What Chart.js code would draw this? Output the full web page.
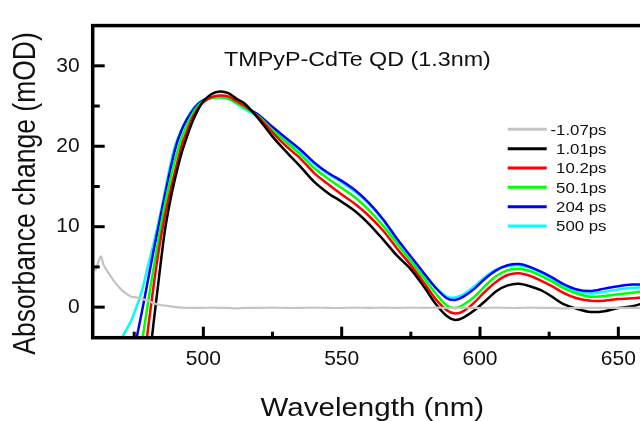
<!DOCTYPE html>
<html>
<head>
<meta charset="utf-8">
<script src="https://cdn.jsdelivr.net/npm/chart.js@4/dist/chart.umd.min.js"></script>
<style>
html,body{margin:0;padding:0;background:#fff;overflow:hidden;}
#wrap{width:652px;height:421px;}
</style>
</head>
<body>
<div id="wrap"><canvas id="c" width="652" height="421"></canvas></div>
<script>
// ---- data ----
const wavelengths = [460,461,462,463,464,466,468,470,472,474,476,478,480,482,484,486,488,490,492,494,496,498,500,503,506,509,512,515,520,525,530,535,540,545,550,555,560,565,570,575,580,584,588,591,594,598,602,606,610,614,618,622,626,630,635,640,645,650,655,660];

const seriesLabels = ['-1.07ps','1.01ps','10.2ps','50.1ps','204 ps','500 ps'];

const s_m107 = [5.0,4.6,5.6,6.3,5.2,4.1,3.1,2.3,1.7,1.3,1.2,1.0,0.8,0.5,0.3,0.2,0.1,0.0,-0.05,-0.1,-0.1,-0.1,-0.1,-0.05,-0.1,-0.1,-0.15,-0.1,-0.1,-0.05,-0.1,-0.1,-0.05,-0.1,-0.1,-0.05,-0.1,-0.05,-0.1,-0.05,-0.1,-0.05,-0.1,-0.1,-0.05,-0.1,-0.1,-0.05,-0.1,-0.1,-0.05,-0.1,-0.1,-0.15,-0.1,-0.1,-0.1,-0.1,-0.1,-0.1];

const s_101 = [null,null,null,null,null,null,null,null,null,null,null,null,
  -8.0,-2.0,3.8,9.3,13.2,16.3,19.0,21.1,23.0,24.5,25.6,
  26.5,26.8,26.6,25.9,25.3,
  23.4,21.2,19.3,17.5,15.6,14.2,13.1,11.9,10.3,8.4,6.4,4.7,2.4,
  0.4,-1.1,-1.6,-1.3,-0.4,
  0.8,2.0,2.7,2.9,2.6,2.1,1.3,0.4,
  -0.2,-0.6,-0.5,-0.1,0.1,0.6];

const s_102 = [null,null,null,null,null,null,null,null,null,null,null,
  -8.3,-2.7,2.6,7.3,11.2,14.4,17.2,19.9,21.8,23.5,24.7,25.5,
  26.1,26.3,26.2,25.6,25.0,
  23.6,21.7,20.0,18.5,16.7,15.3,14.0,12.8,11.3,9.5,7.3,5.2,2.9,
  1.0,-0.4,-0.8,-0.5,0.6,
  2.0,3.2,4.0,4.2,3.9,3.3,2.6,1.8,
  1.1,0.8,0.8,1.0,1.1,1.3];

const s_501 = [null,null,null,null,null,null,null,null,null,null,
  -8.0,-3.9,0.6,4.8,8.9,12.6,15.8,18.6,20.9,22.6,24.0,25.0,25.6,
  26.0,26.1,26.0,25.4,24.8,
  23.7,22.0,20.5,19.0,17.3,16.0,14.8,13.6,12.0,10.1,7.9,5.7,3.5,
  1.7,0.2,-0.1,0.3,1.3,
  2.7,3.9,4.6,4.75,4.5,3.9,3.2,2.4,
  1.7,1.3,1.4,1.6,1.8,2.0];

const s_204 = [null,null,null,null,null,null,null,null,null,
  -7.0,-3.6,-0.2,3.4,7.0,10.4,13.8,17.0,19.9,21.9,23.3,24.4,25.2,25.7,
  26.1,26.2,26.0,25.5,24.9,
  23.9,22.4,21.0,19.6,18.0,16.7,15.7,14.5,12.9,10.9,8.5,6.3,4.1,
  2.4,1.1,0.9,1.3,2.3,
  3.6,4.6,5.2,5.35,5.0,4.4,3.7,2.9,
  2.2,2.0,2.3,2.6,2.8,2.8];

const s_500 = [null,null,null,null,null,null,null,
  -4.1,-2.9,-1.6,0.2,2.3,5.2,7.9,10.9,14.2,17.6,20.3,22.0,23.4,24.5,25.3,25.8,
  26.1,26.1,25.9,25.3,24.6,
  23.6,22.2,20.8,19.4,17.8,16.6,15.5,14.3,12.8,10.8,8.3,6.1,3.9,
  2.4,1.3,1.2,1.6,2.6,
  3.8,4.7,5.1,5.2,4.9,4.3,3.5,2.6,
  1.9,1.7,1.9,2.2,2.4,2.5];

const seriesValues = [s_m107, s_101, s_102, s_501, s_204, s_500];
const seriesColors = ['#c4c4c4','#000000','#ff0000','#00ff00','#0000ff','#00ffff'];

const xTickValues = [475,500,525,550,575,600,625,650];
const xTicksMajor = [500,550,600,650];
const yTickValues = [0,5,10,15,20,25,30];
const yTicksMajor = [0,10,20,30];

const chartTitle = 'TMPyP-CdTe QD (1.3nm)';
const xTitle = 'Wavelength (nm)';
const yTitle = 'Absorbance change (mOD)';

// ---- helpers ----
const FONT = "'Liberation Sans', Arial, sans-serif";
function stretchedText(ctx, text, x, y, size, sx, align) {
  ctx.save();
  ctx.font = size + 'px ' + FONT;
  ctx.translate(x, y);
  ctx.scale(sx, 1);
  ctx.textAlign = align || 'center';
  ctx.textBaseline = 'alphabetic';
  ctx.fillText(text, 0, 0);
  ctx.restore();
}

const decor = {
  id: 'decor',
  afterDatasetsDraw(chart) {
    const {ctx, chartArea: a, scales: {x, y}} = chart;
    ctx.save();
    ctx.strokeStyle = '#000';
    ctx.lineCap = 'butt';
    // frame
    ctx.lineWidth = 3.5;
    ctx.strokeRect(a.left, a.top, a.right - a.left, a.bottom - a.top);
    // inward ticks
    ctx.lineWidth = 3;
    y.ticks.forEach(t => {
      const p = y.getPixelForValue(t.value);
      const len = yTicksMajor.includes(t.value) ? 12 : 7;
      ctx.beginPath(); ctx.moveTo(a.left, p); ctx.lineTo(a.left + len, p); ctx.stroke();
    });
    x.ticks.forEach(t => {
      const p = x.getPixelForValue(t.value);
      const len = xTicksMajor.includes(t.value) ? 11 : 6;
      ctx.beginPath(); ctx.moveTo(p, a.bottom); ctx.lineTo(p, a.bottom - len); ctx.stroke();
    });
    ctx.fillStyle = '#111';
    // chart caption
    stretchedText(ctx, chartTitle, x.getPixelForValue(555.7), y.getPixelForValue(30), 21, 1.11, 'center');
    // axis titles
    stretchedText(ctx, xTitle, (a.left + a.right) / 2 + 3, 415.5, 25, 1.18, 'center');
    ctx.save();
    ctx.font = '26.5px ' + FONT;
    ctx.translate(35, 193.5);
    ctx.rotate(-Math.PI / 2);
    ctx.scale(1, 1.15);
    ctx.textAlign = 'center';
    ctx.textBaseline = 'alphabetic';
    ctx.fillText(yTitle, 0, 0);
    ctx.restore();
    // legend
    const lx0 = 507.7, lx1 = 546.7, tx = 606.5, ly0 = 129.3, dy = 19.35;
    chart.data.datasets.forEach((ds, i) => {
      const yy = ly0 + i * dy;
      ctx.strokeStyle = ds.borderColor;
      ctx.lineWidth = 3;
      ctx.beginPath(); ctx.moveTo(lx0, yy); ctx.lineTo(lx1, yy); ctx.stroke();
      ctx.fillStyle = '#111';
      stretchedText(ctx, ds.label, tx, yy + 5.3, 15, 1.12, 'right');
    });
    ctx.restore();
  }
};

const datasets = seriesValues.map((vals, i) => ({
  label: seriesLabels[i],
  data: vals,
  borderColor: seriesColors[i],
  backgroundColor: seriesColors[i],
  borderWidth: i === 0 ? 2.2 : 2.5,
  pointRadius: 0,
  tension: 0.3,
  spanGaps: false,
  fill: false
}));

new Chart(document.getElementById('c'), {
  type: 'line',
  data: { labels: wavelengths, datasets },
  options: {
    responsive: false,
    devicePixelRatio: 1,
    animation: false,
    layout: { padding: { left: 0, right: 6, top: 12, bottom: 0 } },
    plugins: { legend: { display: false }, tooltip: { enabled: false }, title: { display: false } },
    scales: {
      x: {
        type: 'linear',
        min: 460, max: 660,
        grid: { display: false, drawTicks: false },
        border: { display: false },
        afterBuildTicks: s => { s.ticks = xTickValues.map(v => ({ value: v })); },
        ticks: {
          autoSkip: false, maxRotation: 0,
          padding: 9, color: '#111',
          font: { family: FONT, size: 21 },
          callback: v => xTicksMajor.includes(v) ? String(v) : ''
        },
        afterFit: s => { s.height = 83.3; }
      },
      y: {
        min: -3.8, max: 35,
        grid: { display: false, drawTicks: false },
        border: { display: false },
        afterBuildTicks: s => { s.ticks = yTickValues.map(v => ({ value: v })); },
        ticks: {
          autoSkip: false,
          padding: 13, color: '#111',
          font: { family: FONT, size: 21 },
          callback: v => yTicksMajor.includes(v) ? String(v) : ''
        },
        afterFit: s => { s.width = 92.7; }
      }
    }
  },
  plugins: [decor]
});
</script>
</body>
</html>
